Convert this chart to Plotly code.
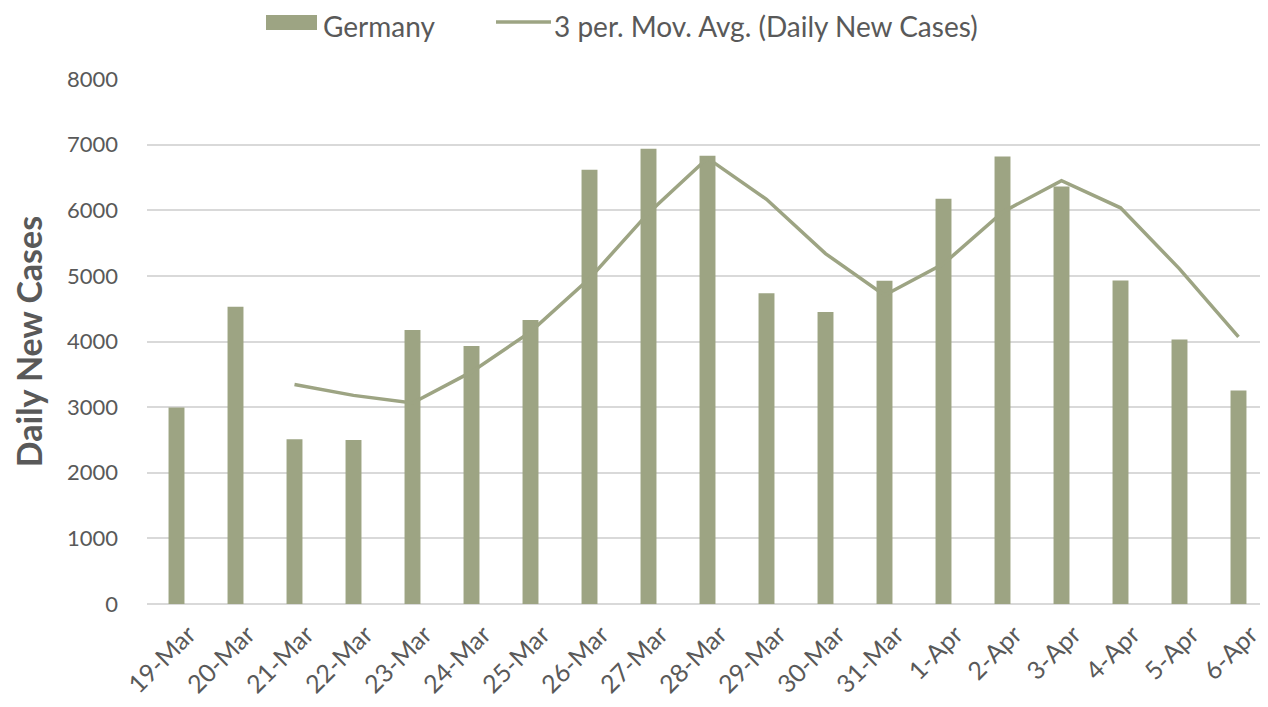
import plotly.graph_objects as go

dates = ["19-Mar", "20-Mar", "21-Mar", "22-Mar", "23-Mar", "24-Mar", "25-Mar",
         "26-Mar", "27-Mar", "28-Mar", "29-Mar", "30-Mar", "31-Mar", "1-Apr",
         "2-Apr", "3-Apr", "4-Apr", "5-Apr", "6-Apr"]
daily_cases = [2993, 4528, 2510, 2500, 4177, 3933, 4329, 6616, 6936, 6829,
               4736, 4451, 4924, 6174, 6819, 6362, 4929, 4029, 3252]
moving_avg = [None, None, 3344, 3179, 3062, 3537, 4146, 4959, 5960, 6794,
              6167, 5339, 4704, 5183, 5972, 6452, 6037, 5107, 4070]
y_ticks = [0, 1000, 2000, 3000, 4000, 5000, 6000, 7000, 8000]

bar_name = "Germany"
line_name = "3 per. Mov. Avg. (Daily New Cases)"

OLIVE = "#9DA483"
TEXT = "#595959"
FONT = "Lato, 'Open Sans', sans-serif"

# the page has an 8px body margin, so the figure is 8px smaller than the window
OFF = 8
FIG_W, FIG_H = 1268 - OFF, 707 - OFF
# plot area in page pixels
L, T, R, B = 147, 79, 1268, 604
W, H = R - L, B - T


def px_x(p):
    return (p - L) / W


def px_y(p):
    return (B - p) / H


fig = go.Figure()

fig.add_trace(go.Bar(
    x=dates,
    y=daily_cases,
    name=bar_name,
    marker=dict(color=OLIVE, line=dict(width=0)),
))

fig.add_trace(go.Scatter(
    x=dates,
    y=moving_avg,
    name=line_name,
    mode="lines",
    line=dict(color=OLIVE, width=3.5),
    connectgaps=False,
))

# legend drawn like the Excel one: wide swatch + line sample
fig.add_shape(type="rect", xref="paper", yref="paper",
              x0=px_x(266), x1=px_x(317), y0=px_y(30), y1=px_y(15),
              fillcolor=OLIVE, line=dict(width=0))
fig.add_shape(type="line", xref="paper", yref="paper",
              x0=px_x(496), x1=px_x(551), y0=px_y(22), y1=px_y(22),
              line=dict(color=OLIVE, width=3.5))
for name, x0 in [(bar_name, 322), (line_name, 553)]:
    fig.add_annotation(text=name, xref="paper", yref="paper",
                       x=px_x(x0), y=px_y(OFF), xanchor="left", yanchor="top",
                       borderpad=0, showarrow=False,
                       font=dict(size=28, color=TEXT, family=FONT))

fig.update_layout(
    width=FIG_W,
    height=FIG_H,
    plot_bgcolor="white",
    paper_bgcolor="white",
    font=dict(family=FONT, color=TEXT, size=22),
    margin=dict(l=L - OFF, r=FIG_W - (R - OFF), t=T - OFF, b=FIG_H - (B - OFF)),
    bargap=0.73,
    showlegend=False,
    xaxis=dict(
        type="category",
        tickangle=-45,
        tickfont=dict(size=25, color=TEXT, family=FONT),
        showgrid=False,
        showline=False,
        ticks="",
        automargin=False,
        ticklabelstandoff=10,
        ticklabelshift=12,
    ),
    yaxis=dict(
        range=[0, 8000],
        tickvals=y_ticks,
        tickfont=dict(size=22, color=TEXT, family=FONT),
        showgrid=True,
        gridcolor="#D9D9D9",
        gridwidth=1.5,
        zeroline=True,
        zerolinecolor="#D9D9D9",
        zerolinewidth=1.5,
        ticklabelstandoff=28,
        automargin=False,
        title=dict(
            text="<b>Daily New Cases</b>",
            font=dict(size=34, color=TEXT, family=FONT),
            standoff=20,
        ),
    ),
)

fig.write_html("out.html")
